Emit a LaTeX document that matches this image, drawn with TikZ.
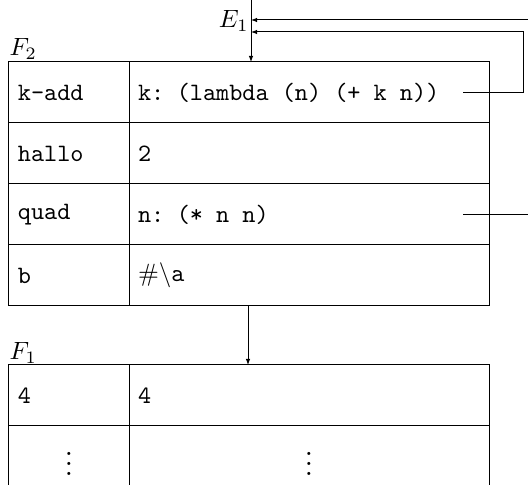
\documentclass[tikz,border=0pt]{standalone}
\usetikzlibrary{positioning,arrows.meta}
\tikzset{
  cell/.style={draw,anchor=north west,minimum height=24.4pt,inner xsep=3.6pt,inner ysep=0pt,outer sep=0pt,align=left,font=\ttfamily,
    execute at begin node={\spaceskip=5.25pt\relax}},
  keycell/.style={cell,minimum width=48pt,text width=40.8pt},
  valcell/.style={cell,minimum width=144pt,text width=136.8pt},
  framelabel/.style={anchor=base west,inner sep=0pt},
}

\begin{document}
\begin{tikzpicture}[x=0.4pt,y=-0.4pt,>={Latex[length=2.4pt,width=1.8pt]}]
\useasboundingbox (0,0) rectangle (528,485);
% frame F2
\foreach \k/\v [count=\i] in {k-add/{k: (lambda (n) (+ k n))},hallo/2,quad/{n: (* n n)},b/{$\#\backslash$a}} {
  \node[keycell] (f2k\i) at (9,{62+61*(\i-1)}) {\k};
  \node[valcell,right=0pt of f2k\i] (f2v\i) {\v};
}
\node[framelabel] (F2) at (9,56) {$F_2$};
% frame F1
\node[keycell] (f1k1) at (9,365) {4};
\node[valcell,right=0pt of f1k1] (f1v1) {4};
\node[keycell,align=center,below=0pt of f1k1] (f1k2) {$\vdots$};
\node[valcell,align=center,right=0pt of f1k2] (f1v2) {$\vdots$};
\node[framelabel] (F1) at (9,360) {$F_1$};
% environment E1
\coordinate (e1) at (251,0);
\coordinate (in1) at (251,20);
\coordinate (in2) at (251,32);
\node[anchor=base east,inner sep=0pt] (E1) at (249,28) {$E_1$};
\draw[->] (e1) -- (e1 |- f2v1.north);
\draw[->] ([xshift=47.6pt]f2v4.south west) -- ([xshift=47.6pt]f1v1.north west);
% procedure pointers
\draw[->] ([xshift=-10.4pt]f2v1.east) -- ++(60,0) |- (in2);
\draw[->] ([xshift=-10.4pt]f2v3.east) -- ++(80,0) |- (in1);
\end{tikzpicture}
\end{document}
